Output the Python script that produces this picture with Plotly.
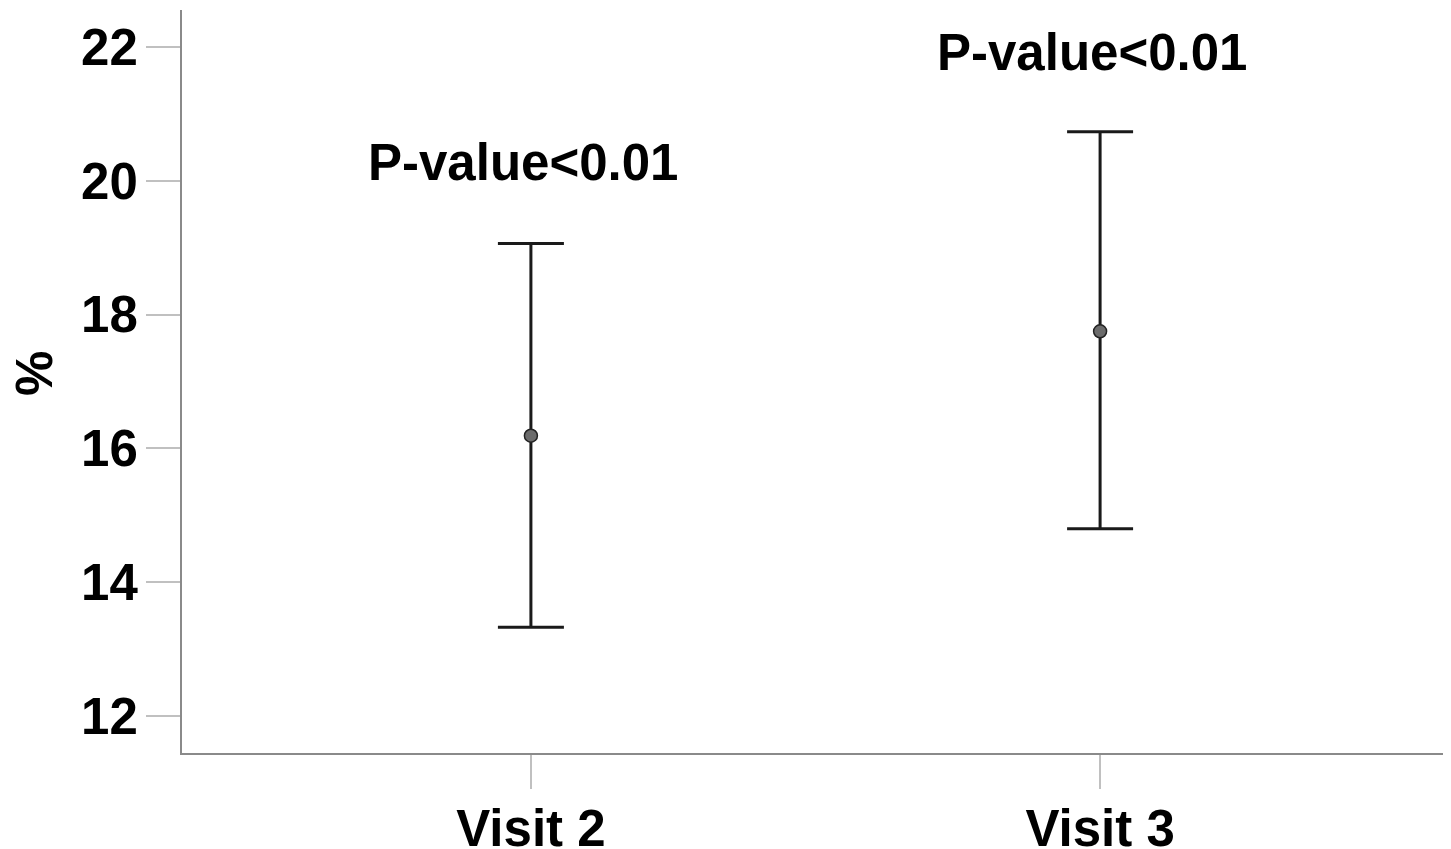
import plotly.graph_objects as go

categories = ["Visit 2", "Visit 3"]
means = [16.19, 17.75]
upper = [19.06, 20.73]
lower = [13.33, 14.80]
p_labels = ["P-value<0.01", "P-value<0.01"]
p_label_y = [20.27, 21.91]
y_ticks = [12, 14, 16, 18, 20, 22]

err_plus = [u - m for u, m in zip(upper, means)]
err_minus = [m - l for m, l in zip(means, lower)]

FONT = dict(family="Liberation Sans, Arial, sans-serif", size=51, color="#000000", weight="bold")

fig = go.Figure()
fig.add_trace(go.Scatter(
    x=categories, y=means, mode="markers",
    marker=dict(size=13, color="#6b6b6b", line=dict(color="#222222", width=1.5)),
    error_y=dict(type="data", symmetric=False, array=err_plus, arrayminus=err_minus,
                 color="#1a1a1a", thickness=3, width=33),
    showlegend=False, hoverinfo="skip",
))

for c, t, yv in zip(categories, p_labels, p_label_y):
    fig.add_annotation(x=c, y=yv, text=t, showarrow=False, xshift=-8,
                       xanchor="center", yanchor="middle", font=FONT)

fig.add_annotation(xref="paper", yref="paper", x=0, y=0.51, xshift=-148,
                   text="%", textangle=-90, showarrow=False,
                   xanchor="center", yanchor="middle", font=FONT)

fig.update_layout(
    width=1443, height=841,
    margin=dict(l=174, r=2, t=2, b=96),
    plot_bgcolor="white", paper_bgcolor="white",
    font=FONT,
)
fig.update_xaxes(
    type="category", range=[-0.613, 1.613], automargin=False,
    showline=True, linecolor="#8a8a8a", linewidth=2, mirror=False,
    ticks="outside", ticklen=34, tickcolor="#c0c0c0", tickwidth=2,
    ticklabelstandoff=-4,
    showgrid=False, zeroline=False, tickfont=FONT,
)
fig.update_yaxes(
    range=[11.45, 22.55], tickvals=y_ticks, automargin=False,
    showline=True, linecolor="#8a8a8a", linewidth=2,
    ticks="outside", ticklen=34, tickcolor="#c0c0c0", tickwidth=2,
    ticklabelstandoff=-2,
    showgrid=False, zeroline=False, tickfont=FONT,
)

fig.write_html("out.html")
